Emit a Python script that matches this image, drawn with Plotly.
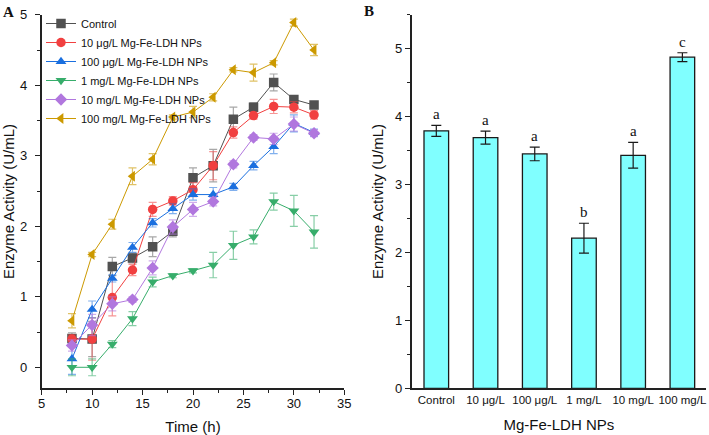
import plotly.graph_objects as go

# ---------------- Data (panel A) ----------------
time_h = [8, 10, 12, 14, 16, 18, 20, 22, 24, 26, 28, 30, 32]

control = [0.41, 0.40, 1.43, 1.55, 1.71, 1.93, 2.69, 2.86, 3.52, 3.69, 4.04, 3.80, 3.72]
control_err = [0.08, 0.25, 0.13, 0.07, 0.14, 0.08, 0.14, 0.23, 0.17, 0.06, 0.12, 0.05, 0.04]

ug10 = [0.40, 0.40, 0.99, 1.38, 2.24, 2.36, 2.52, 2.86, 3.33, 3.57, 3.70, 3.69, 3.58]
ug10_err = [0.06, 0.30, 0.26, 0.08, 0.10, 0.06, 0.10, 0.20, 0.08, 0.05, 0.10, 0.08, 0.06]

ug100 = [0.12, 0.82, 1.26, 1.70, 2.05, 2.25, 2.45, 2.45, 2.56, 2.86, 3.13, 3.46, 3.33]
ug100_err = [0.22, 0.12, 0.05, 0.07, 0.06, 0.07, 0.08, 0.10, 0.05, 0.06, 0.10, 0.12, 0.05]

mg1 = [0.00, 0.00, 0.33, 0.69, 1.21, 1.30, 1.37, 1.45, 1.73, 1.85, 2.35, 2.22, 1.92]
mg1_err = [0.12, 0.12, 0.05, 0.10, 0.07, 0.03, 0.03, 0.18, 0.20, 0.10, 0.12, 0.22, 0.23]

mg10 = [0.31, 0.60, 0.90, 0.96, 1.41, 1.99, 2.24, 2.35, 2.88, 3.26, 3.24, 3.45, 3.32]
mg10_err = [0.08, 0.15, 0.10, 0.04, 0.10, 0.10, 0.10, 0.06, 0.05, 0.04, 0.08, 0.10, 0.05]

mg100 = [0.66, 1.60, 2.03, 2.71, 2.95, 3.55, 3.62, 3.83, 4.22, 4.18, 4.32, 4.89, 4.50]
mg100_err = [0.10, 0.03, 0.07, 0.12, 0.08, 0.03, 0.08, 0.05, 0.03, 0.12, 0.03, 0.05, 0.08]

series_names = ["Control", "10 μg/L Mg-Fe-LDH NPs", "100 μg/L Mg-Fe-LDH NPs",
                "1 mg/L Mg-Fe-LDH NPs", "10 mg/L Mg-Fe-LDH NPs", "100 mg/L Mg-Fe-LDH NPs"]

# ---------------- Data (panel B) ----------------
bar_cats = ["Control", "10 μg/L", "100 μg/L", "1 mg/L", "10 mg/L", "100 mg/L"]
bar_vals = [3.79, 3.69, 3.45, 2.21, 3.43, 4.875]
bar_errs = [0.08, 0.095, 0.10, 0.22, 0.19, 0.065]
bar_letters = ["a", "a", "a", "b", "a", "c"]

# ---------------- Styles ----------------
colors = ["#515151", "#F14040", "#1A6FDF", "#37AD6B", "#B177DE", "#CC9900"]
err_colors = ["rgba(81,81,81,0.5)", "rgba(241,64,64,0.55)", "rgba(26,111,223,0.55)",
              "rgba(55,173,107,0.6)", "rgba(177,119,222,0.6)", "rgba(204,153,0,0.6)"]
symbols = ["square", "circle", "triangle-up", "triangle-down", "diamond", "triangle-left"]

SANS = "Liberation Sans, Arial, sans-serif"
SERIF = "Liberation Serif, Times New Roman, serif"
W, H = 709, 435

fig = go.Figure()

all_y = [control, ug10, ug100, mg1, mg10, mg100]
all_e = [control_err, ug10_err, ug100_err, mg1_err, mg10_err, mg100_err]
for name, y, e, c, ec, s in zip(series_names, all_y, all_e, colors, err_colors, symbols):
    fig.add_trace(go.Scatter(
        x=time_h, y=y, name=name, mode="lines+markers",
        line=dict(color=c, width=1),
        marker=dict(symbol=s, size=9.5, color=c, line=dict(width=0)),
        error_y=dict(type="data", array=e, visible=True, color=ec, thickness=1.2, width=4),
        xaxis="x", yaxis="y",
    ))

fig.add_trace(go.Bar(
    x=bar_cats, y=bar_vals, width=0.5, showlegend=False,
    marker=dict(color="#80FFFF", line=dict(color="#1a1a1a", width=1.3)),
    error_y=dict(type="data", array=bar_errs, visible=True, color="#1a1a1a", thickness=1.2, width=5),
    xaxis="x2", yaxis="y2",
))

for cat, v, e, lt in zip(bar_cats, bar_vals, bar_errs, bar_letters):
    fig.add_annotation(x=cat, y=v + e, xref="x2", yref="y2", text=lt, showarrow=False,
                       yanchor="bottom", yshift=1, font=dict(family=SERIF, size=15, color="#111"))


def fx(px):
    return px / W


def fy(py):
    return 1 - py / H


axis_common = dict(showline=True, linecolor="#222", linewidth=1.6, ticks="outside",
                   ticklen=5, tickwidth=1.4, tickcolor="#222", showgrid=False, zeroline=False,
                   tickfont=dict(family=SANS, size=13, color="#111"), mirror=False)

fig.update_layout(
    width=W, height=H, margin=dict(l=0, r=0, t=0, b=0, autoexpand=False),
    paper_bgcolor="white", plot_bgcolor="white",
    font=dict(family=SANS, color="#111"),
    xaxis=dict(domain=[fx(41.7), fx(344.3)], range=[5, 35], dtick=5, anchor="y",
               minor=dict(dtick=2.5, ticks="outside", ticklen=3, tickwidth=1.2, tickcolor="#222"),
               ticklabelstandoff=-3,
               title=dict(text="Time (h)", font=dict(family=SANS, size=15), standoff=12),
               **axis_common),
    yaxis=dict(domain=[fy(388.3), fy(14.8)], range=[-0.298, 5.0], dtick=1, anchor="x",
               minor=dict(dtick=0.5, ticks="outside", ticklen=3, tickwidth=1.2, tickcolor="#222"),
               ticklabelstandoff=5,
               title=dict(text="Enzyme Activity (U/mL)", font=dict(family=SANS, size=15), standoff=5),
               **axis_common),
    xaxis2=dict(domain=[fx(411.7), fx(706)], range=[-0.5, 5.48], anchor="y2",
                showline=True, linecolor="#222", linewidth=1.6, ticks="", showgrid=False,
                zeroline=False, tickangle=0,
                tickfont=dict(family=SANS, size=11.5, color="#111"),
                title=dict(text="Mg-Fe-LDH NPs", font=dict(family=SANS, size=15), standoff=15)),
    yaxis2=dict(domain=[fy(388.3), fy(14.7)], range=[0, 5.5], dtick=1, anchor="x2",
                minor=dict(dtick=0.5, ticks="outside", ticklen=3, tickwidth=1.2, tickcolor="#222"),
                title=dict(text="Enzyme Activity (U/mL)", font=dict(family=SANS, size=15), standoff=8),
                **axis_common),
    legend=dict(x=fx(41), y=fy(9), xanchor="left", yanchor="top",
                bgcolor="rgba(255,255,255,0)", font=dict(family=SANS, size=11, color="#111"),
                itemwidth=30, tracegroupgap=0),
    showlegend=True,
)

fig.add_annotation(x=fx(1), y=fy(2), xref="paper", yref="paper", text="<b>A</b>",
                   showarrow=False, xanchor="left", yanchor="top",
                   font=dict(family=SERIF, size=15, color="#111"))
fig.add_annotation(x=fx(362), y=fy(1), xref="paper", yref="paper", text="<b>B</b>",
                   showarrow=False, xanchor="left", yanchor="top",
                   font=dict(family=SERIF, size=15, color="#111"))

fig.write_html("out.html", config={"displayModeBar": False},
               post_script="document.body.style.margin='0';document.body.style.padding='0';")
